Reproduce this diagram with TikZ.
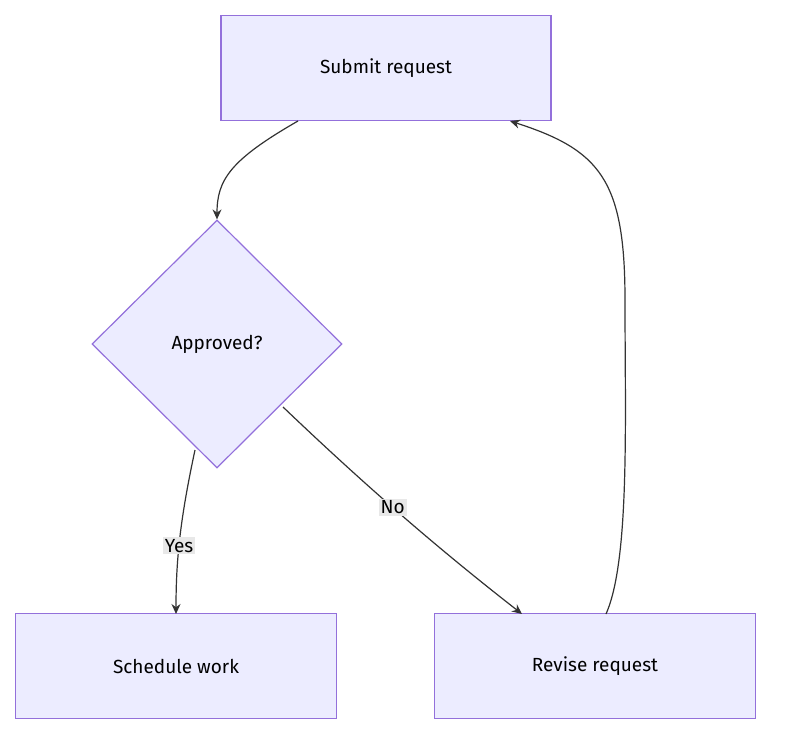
\documentclass[tikz,border=0pt]{standalone}
\usepackage{fontspec}
\setmainfont{Fira Sans}
\usetikzlibrary{arrows.meta,shapes.geometric}
\definecolor{boxfill}{HTML}{ECECFF}
\definecolor{boxline}{HTML}{9370DB}
\definecolor{edgecol}{HTML}{333333}
\definecolor{lblfill}{HTML}{E8E8E8}
\tikzset{
    process/.style={
    rectangle,draw=boxline,fill=boxfill,line width=1.2pt,
    minimum width=321pt,minimum height=105pt,font=\fontsize{19}{23}\selectfont
    },
    decision/.style={
    diamond,draw=boxline,fill=boxfill,line width=1.2pt,
    minimum width=250pt,minimum height=248pt,inner sep=0pt,font=\fontsize{19}{23}\selectfont
    },
    flow/.style={
    draw=edgecol,line width=1.2pt,-{Stealth[length=10pt,width=9pt]}
    },
    lbl/.style={
    fill=lblfill,inner sep=2pt,font=\fontsize{19}{23}\selectfont
    },
}
\begin{document}
\begin{tikzpicture}[x=1pt,y=-1pt]
  \useasboundingbox (0,0) rectangle (788,752);
  \node[process,minimum width=330pt] (submit) at (386,68) {Submit request};
  \node[decision] (approved) at (217,344) {Approved?};
  \node[process] (schedule) at (176,666) {Schedule work};
  \node[process] (revise) at (595,666) {Revise request};

  \coordinate (sOut) at (298,121);
  \coordinate (aYes) at (195,450);
  \coordinate (aNo) at (283,407);
  \coordinate (schIn) at (176,614);
  \coordinate (revIn) at (522,614);
  \coordinate (revOut) at (606,614);
  \coordinate (subIn) at (510,121);

  \draw[flow] (sOut) .. controls (230,160) and (217,180) .. (approved.north);
  \draw[flow] (aYes) .. controls (180,520) and (176,560) .. (schIn)
    node[lbl,pos=0.55] {Yes};
  \draw[flow] (aNo) .. controls (370,490) and (440,550) .. (revIn)
    node[lbl,pos=0.45] {No};
  \draw[flow] (revOut) .. controls (630,560) and (625,420) .. (625,300)
    .. controls (625,180) and (600,150) .. (subIn);
\end{tikzpicture}
\end{document}
